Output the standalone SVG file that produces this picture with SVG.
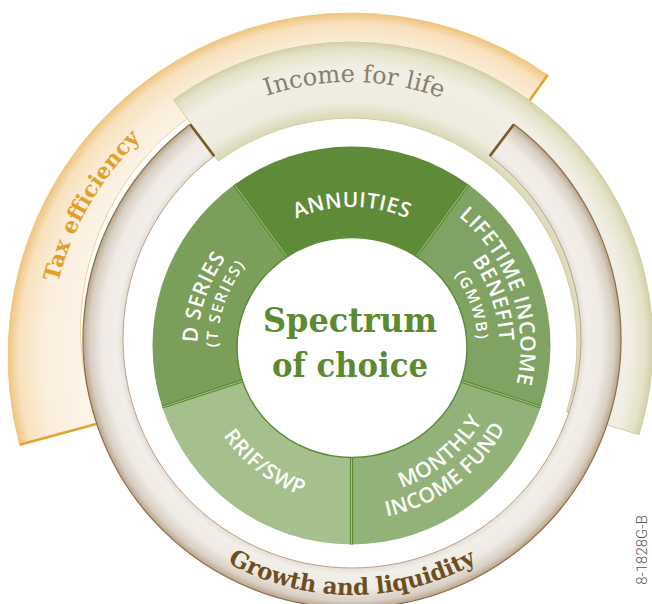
<svg xmlns="http://www.w3.org/2000/svg" width="652" height="604" viewBox="0 0 652 604">
  <style>
    .seg-label { font-family: "Open Sans", "Noto Sans", sans-serif; font-weight: 600; fill: #ffffff; text-anchor: middle; }
    .seg-small { font-size: 15.5px; letter-spacing: 1.8px; }
    .seg-big { font-size: 21px; letter-spacing: 0.5px; }
    .slab { font-family: "DejaVu Serif", "Liberation Serif", serif; text-anchor: middle; }
    .divider { stroke: #5a8a31; stroke-width: 3.2; fill: none; }
    .divider-hi { stroke: #a9c893; stroke-width: 0.9; fill: none; }
    .end-cap { stroke-width: 2.6; stroke-linecap: butt; fill: none; }
  </style>
  <defs>
    <radialGradient id="taxFill" gradientUnits="userSpaceOnUse" cx="351" cy="356" r="343">
      <stop offset="0.76" stop-color="#fdf6ec"/>
      <stop offset="0.90" stop-color="#fbeedb"/>
      <stop offset="0.97" stop-color="#f8e1bd"/>
      <stop offset="1" stop-color="#efc47e"/>
    </radialGradient>
    <radialGradient id="incomeFill" gradientUnits="userSpaceOnUse" cx="351" cy="344" r="302">
      <stop offset="0.748" stop-color="#d9d8b6"/>
      <stop offset="0.80" stop-color="#eeece0"/>
      <stop offset="0.92" stop-color="#f1efe5"/>
      <stop offset="0.975" stop-color="#e4e2c8"/>
      <stop offset="1" stop-color="#d3d1a8"/>
    </radialGradient>
    <radialGradient id="growthFill" gradientUnits="userSpaceOnUse" cx="352" cy="339" r="269">
      <stop offset="0.851" stop-color="#e4ddd4"/>
      <stop offset="0.875" stop-color="#f2eee9"/>
      <stop offset="0.93" stop-color="#efeae4"/>
      <stop offset="0.975" stop-color="#d9cfc3"/>
      <stop offset="1" stop-color="#b9a58b"/>
    </radialGradient>
    <!-- baselines for the curved titles -->
    <path id="incomePath" d="M124.1,213 A262,262 0 0 1 577.9,213"/>
    <path id="taxPath" d="M89.5,507 A302,302 0 0 1 351,54"/>
    <path id="growthPath" d="M130.3,467 A256,256 0 0 0 573.7,467"/>
    <!-- baselines for the wheel labels, all around (352,347) -->
    <path id="annuitiesPath" d="M220.44,299.12 A140,140 0 0 1 483.56,299.12"/>
    <path id="lifetimePath1" d="M325.65,180.57 A168.5,168.5 0 0 1 433.69,494.37"/>
    <path id="lifetimePath2" d="M328.93,201.31 A147.5,147.5 0 0 1 423.51,476"/>
    <path id="lifetimePath3" d="M332.37,223.04 A125.5,125.5 0 0 1 412.84,456.76"/>
    <path id="dseriesPath1" d="M278.27,482.77 A154.5,154.5 0 0 1 374.84,194.2"/>
    <path id="dseriesPath2" d="M286.79,464.63 A134.5,134.5 0 0 1 373.04,214.15"/>
    <path id="monthlyPath1" d="M255.9,461.52 A149.5,149.5 0 0 0 481.47,272.25"/>
    <path id="monthlyPath2" d="M234.01,473.53 A173,173 0 0 0 506.14,268.46"/>
    <path id="rrifPath" d="M212.56,275.95 A156.5,156.5 0 0 0 458.73,461.46"/>
  </defs>

  <!-- Outer band: tax efficiency -->
  <g id="band-tax">
    <path d="M19.7,444.8 A343,343 0 0 1 547.7,75 L510,128 A262,262 0 0 0 98,423.6 Z" fill="url(#taxFill)" stroke="#f0c477" stroke-width="0.8"/>
    <line class="end-cap" x1="19.7" y1="444.8" x2="98" y2="423.6" stroke="#e2a431"/>
    <line class="end-cap" x1="547.7" y1="75" x2="510" y2="128" stroke="#e2a431"/>
    <text class="slab" font-size="22" font-weight="bold" fill="#e2a02b"><textPath href="#taxPath" startOffset="50%">Tax efficiency</textPath></text>
  </g>

  <!-- Middle band: income for life -->
  <g id="band-income">
    <path d="M173.5,99.7 A302,302 0 0 1 639,434.8 L566.5,412 A226,226 0 0 0 218.2,161.2 Z" fill="url(#incomeFill)" stroke="#d2cfa3" stroke-width="1"/>
    <text class="slab" font-size="24" fill="#857f6c"><textPath href="#incomePath" startOffset="50.6%">Income for life</textPath></text>
  </g>

  <!-- Inner band: growth and liquidity -->
  <g id="band-growth">
    <path d="M513.9,124.2 A269,269 0 1 1 190.1,124.2 L214.2,156.1 A229,229 0 1 0 489.8,156.1 Z" fill="url(#growthFill)"/>
    <path d="M513.9,124.2 A269,269 0 1 1 190.1,124.2" fill="none" stroke="#8c6d48" stroke-width="1.2"/>
    <path d="M214.2,156.1 A229,229 0 1 0 489.8,156.1" fill="none" stroke="#b7a389" stroke-width="1"/>
    <line class="end-cap" x1="513.9" y1="124.2" x2="489.8" y2="156.1" stroke="#7a5a2c"/>
    <line class="end-cap" x1="190.1" y1="124.2" x2="214.2" y2="156.1" stroke="#7a5a2c"/>
    <text class="slab" font-size="23" font-weight="bold" letter-spacing="-0.3" fill="#6d4f1f"><textPath href="#growthPath" startOffset="50%">Growth and liquidity</textPath></text>
  </g>

  <!-- Wheel segments -->
  <g id="seg-annuities">
    <path d="M351.5,345.5 L234.53,184.51 A199,199 0 0 1 468.47,184.51 Z" fill="#5f8b39"/>
  </g>
  <g id="seg-lifetime-income">
    <path d="M351.5,345.5 L468.47,184.51 A199,199 0 0 1 540.76,406.99 Z" fill="#80a363"/>
  </g>
  <g id="seg-monthly-income">
    <path d="M351.5,345.5 L540.76,406.99 A199,199 0 0 1 351.5,544.5 Z" fill="#93b279"/>
  </g>
  <g id="seg-rrif-swp">
    <path d="M351.5,345.5 L351.5,544.5 A199,199 0 0 1 162.24,406.99 Z" fill="#a5c08d"/>
  </g>
  <g id="seg-d-series">
    <path d="M351.5,345.5 L162.24,406.99 A199,199 0 0 1 234.53,184.51 Z" fill="#7b9e5b"/>
  </g>

  <g id="dividers">
    <path class="divider" d="M351.5,345.5 L234.53,184.51 M351.5,345.5 L468.47,184.51 M351.5,345.5 L540.76,406.99 M351.5,345.5 L351.5,544.5 M351.5,345.5 L162.24,406.99"/>
    <path class="divider-hi" d="M351.5,345.5 L234.53,184.51 M351.5,345.5 L468.47,184.51 M351.5,345.5 L540.76,406.99 M351.5,345.5 L351.5,544.5 M351.5,345.5 L162.24,406.99"/>
  </g>

  <!-- Hub -->
  <g id="hub">
    <ellipse cx="352" cy="347.5" rx="115" ry="110" fill="#ffffff" stroke="#5f8b39" stroke-width="1.5"/>
    <text class="slab" x="350" y="332" font-size="34" font-weight="bold" fill="#5b8a30" textLength="174" lengthAdjust="spacingAndGlyphs">Spectrum</text>
    <text class="slab" x="350" y="377" font-size="34" font-weight="bold" fill="#5b8a30" textLength="156" lengthAdjust="spacingAndGlyphs">of choice</text>
  </g>

  <!-- Segment labels -->
  <g id="label-annuities">
    <text class="seg-label seg-big"><textPath href="#annuitiesPath" startOffset="50%">ANNUITIES</textPath></text>
  </g>
  <g id="label-lifetime">
    <text class="seg-label seg-big"><textPath href="#lifetimePath1" startOffset="50%">LIFETIME INCOME</textPath></text>
    <text class="seg-label seg-big"><textPath href="#lifetimePath2" startOffset="50%">BENEFIT</textPath></text>
    <text class="seg-label seg-small"><textPath href="#lifetimePath3" startOffset="50%">(GMWB)</textPath></text>
  </g>
  <g id="label-monthly">
    <text class="seg-label seg-big"><textPath href="#monthlyPath1" startOffset="50%">MONTHLY</textPath></text>
    <text class="seg-label seg-big"><textPath href="#monthlyPath2" startOffset="50%">INCOME FUND</textPath></text>
  </g>
  <g id="label-rrif">
    <text class="seg-label seg-big"><textPath href="#rrifPath" startOffset="50%">RRIF/SWP</textPath></text>
  </g>
  <g id="label-dseries">
    <text class="seg-label seg-big"><textPath href="#dseriesPath1" startOffset="50%">D SERIES</textPath></text>
    <text class="seg-label seg-small"><textPath href="#dseriesPath2" startOffset="50%">(T SERIES)</textPath></text>
  </g>

  <text id="figure-code" transform="translate(647,550) rotate(-90)" text-anchor="middle" font-family="Roboto, 'Liberation Sans', sans-serif" font-weight="300" font-size="15" fill="#555555">8-1828G-B</text>
</svg>
